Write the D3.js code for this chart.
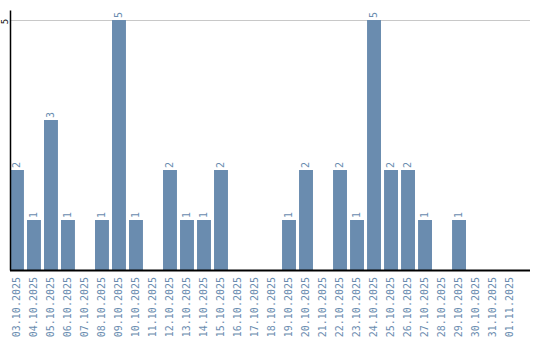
<!DOCTYPE html>
<html>
<head>
<meta charset="utf-8">
<script src="https://cdn.jsdelivr.net/npm/d3@7"></script>
<style>
  body { margin: 0; background: #fff; }
  text { font-family: "DejaVu Sans Mono", monospace; }
</style>
</head>
<body>
<div class="chart"></div>
<script>
// DATA ------------------------------**
const days = ['03.10.2025','04.10.2025','05.10.2025','06.10.2025','07.10.2025','08.10.2025',
  '09.10.2025','10.10.2025','11.10.2025','12.10.2025','13.10.2025','14.10.2025','15.10.2025',
  '16.10.2025','17.10.2025','18.10.2025','19.10.2025','20.10.2025','21.10.2025','22.10.2025',
  '23.10.2025','24.10.2025','25.10.2025','26.10.2025','27.10.2025','28.10.2025','29.10.2025',
  '30.10.2025','31.10.2025','01.11.2025'];
const counts = [2,1,3,1,0,1,5,1,0,2,1,1,2,0,0,0,1,2,0,2,1,5,2,2,1,0,1,0,0,0];
const yTicks = [5];

const barColor = '#6a8caf';

// margin convention
const margin = {top: 10, right: 10, bottom: 70, left: 10};
const width = 540 - margin.left - margin.right;
const height = 340 - margin.top - margin.bottom;
const bandWidth = 507; // bars stop a little before the axis end

const svg = d3.select('.chart').append('svg')
    .attr('width', width + margin.left + margin.right)
    .attr('height', height + margin.top + margin.bottom)
    .append('g')
    .attr('transform', 'translate(' + margin.left + ',' + margin.top + ')');

let xScale = d3.scaleBand()
    .domain(days)
    .range([0, bandWidth])
    .paddingInner(0.18)
    .paddingOuter(0);

let yScale = d3.scaleLinear()
    .domain([0, 5.2])
    .range([height, 0]);

// gridline
svg.selectAll('.grid')
    .data(yTicks)
    .enter()
    .append('line')
    .attr('class', 'grid')
    .attr('x1', 0)
    .attr('x2', width)
    .attr('y1', d => Math.round(yScale(d)) + 0.5)
    .attr('y2', d => Math.round(yScale(d)) + 0.5)
    .attr('stroke', '#c8c8c8')
    .attr('stroke-width', 1);

// bars
svg.selectAll('.bar')
    .data(days)
    .enter()
    .append('rect')
    .attr('class', 'bar')
    .attr('x', d => xScale(d))
    .attr('y', (d, i) => yScale(counts[i]))
    .attr('width', xScale.bandwidth())
    .attr('height', (d, i) => height - yScale(counts[i]))
    .attr('fill', barColor);

// value labels
svg.selectAll('.value')
    .data(days.filter((d, i) => counts[i] > 0))
    .enter()
    .append('text')
    .attr('class', 'value')
    .attr('transform', d => 'translate(' + (xScale(d) + xScale.bandwidth() / 2 + 3) + ',' + (yScale(counts[days.indexOf(d)]) - 2) + ') rotate(-90)')
    .attr('font-size', '10px')
    .attr('fill', barColor)
    .text(d => counts[days.indexOf(d)]);

// axes
let xAxis = d3.axisBottom(xScale).tickSize(0).tickPadding(0);
let xAxisGroup = svg.append('g')
    .attr('class', 'axis x-axis')
    .attr('transform', 'translate(0,' + height + ')')
    .call(xAxis);
xAxisGroup.select('.domain').remove();
xAxisGroup.append('line')
    .attr('x1', 0)
    .attr('x2', width)
    .attr('y1', 0.5)
    .attr('y2', 0.5)
    .attr('stroke', '#000')
    .attr('stroke-width', 2);
xAxisGroup.selectAll('text')
    .attr('font-size', '10px')
    .attr('font-family', '"DejaVu Sans Mono", monospace')
    .attr('fill', barColor)
    .attr('text-anchor', 'end')
    .attr('dy', null)
    .attr('y', 0)
    .attr('transform', 'translate(3,7) rotate(-90)');

let yAxis = d3.axisLeft(yScale).tickValues(yTicks).tickFormat(d3.format('d')).tickSize(0).tickPadding(0);
let yAxisGroup = svg.append('g')
    .attr('class', 'axis y-axis')
    .call(yAxis);
yAxisGroup.select('.domain').attr('stroke', '#000').attr('stroke-width', 1.5);
// tick groups are already shifted to their y, so only rotate in place
yAxisGroup.selectAll('text')
    .attr('font-size', '9px')
    .attr('font-family', '"DejaVu Sans Mono", monospace')
    .attr('fill', '#000')
    .attr('text-anchor', 'middle')
    .attr('dy', null)
    .attr('x', 0)
    .attr('y', 0)
    .attr('transform', 'translate(-2,1) rotate(-90)');
</script>
</body>
</html>
